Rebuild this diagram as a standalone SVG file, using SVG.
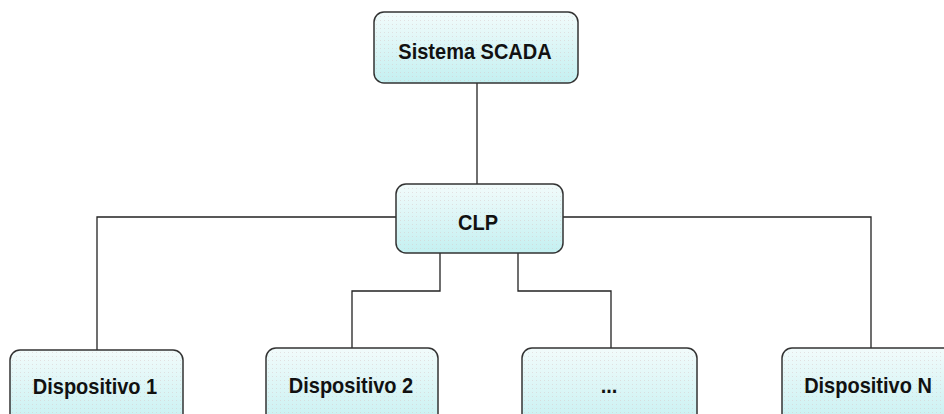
<svg xmlns="http://www.w3.org/2000/svg" width="944" height="414" viewBox="0 0 944 414">
  <defs>
    <linearGradient id="boxFill" x1="0" y1="0" x2="0" y2="1">
      <stop offset="0" stop-color="#f2fbfb"/>
      <stop offset="1" stop-color="#c4f0f1"/>
    </linearGradient>
    <pattern id="dots" width="4" height="4" patternUnits="userSpaceOnUse">
      <rect x="0" y="0" width="1" height="1" fill="#d8c8c8" opacity="0.5"/>
    </pattern>
  </defs>
  <style>
    .box { fill: url(#boxFill); stroke: #333; stroke-width: 1.5; }
    .dots { fill: url(#dots); stroke: none; }
    .lbl { font-family: "Liberation Sans", Arial, sans-serif; font-weight: bold; font-size: 20px; fill: #111; text-anchor: middle; }
    .conn { fill: none; stroke: #222; stroke-width: 1.3; }
  </style>

  <g id="connectors">
    <line class="conn" x1="477" y1="83" x2="477" y2="184"/>
    <polyline class="conn" points="396,217 97,217 97,350"/>
    <polyline class="conn" points="563,217 871,217 871,350"/>
    <polyline class="conn" points="440,253 440,291 352,291 352,348"/>
    <polyline class="conn" points="518,253 518,291 611,291 611,348"/>
  </g>

  <g id="scada">
    <rect class="box" x="374" y="12" width="204" height="71" rx="10"/>
    <rect class="dots" x="376" y="14" width="200" height="67" rx="9"/>
    <text class="lbl" x="475" y="59" transform="translate(475 59) scale(1 1.12) translate(-475 -59)">Sistema SCADA</text>
  </g>

  <g id="clp">
    <rect class="box" x="396" y="184" width="167" height="69" rx="10"/>
    <rect class="dots" x="398" y="186" width="163" height="65" rx="9"/>
    <text class="lbl" x="478" y="230" transform="translate(478 230) scale(1 1.12) translate(-478 -230)">CLP</text>
  </g>

  <g id="dispositivo1">
    <rect class="box" x="10" y="350" width="173" height="80" rx="10"/>
    <rect class="dots" x="12" y="352" width="169" height="76" rx="9"/>
    <text class="lbl" x="95" y="394" transform="translate(95 394) scale(1 1.12) translate(-95 -394)">Dispositivo 1</text>
  </g>

  <g id="dispositivo2">
    <rect class="box" x="266" y="348" width="172" height="82" rx="10"/>
    <rect class="dots" x="268" y="350" width="168" height="78" rx="9"/>
    <text class="lbl" x="351" y="393" transform="translate(351 393) scale(1 1.12) translate(-351 -393)">Dispositivo 2</text>
  </g>

  <g id="reticencias">
    <rect class="box" x="522" y="348" width="175" height="82" rx="10"/>
    <rect class="dots" x="524" y="350" width="171" height="78" rx="9"/>
    <text class="lbl" x="609" y="393" transform="translate(609 393) scale(1 1.12) translate(-609 -393)">...</text>
  </g>

  <g id="dispositivoN">
    <rect class="box" x="782" y="348" width="175" height="82" rx="10"/>
    <rect class="dots" x="784" y="350" width="171" height="78" rx="9"/>
    <text class="lbl" x="868" y="393" transform="translate(868 393) scale(1 1.12) translate(-868 -393)">Dispositivo N</text>
  </g>
</svg>
